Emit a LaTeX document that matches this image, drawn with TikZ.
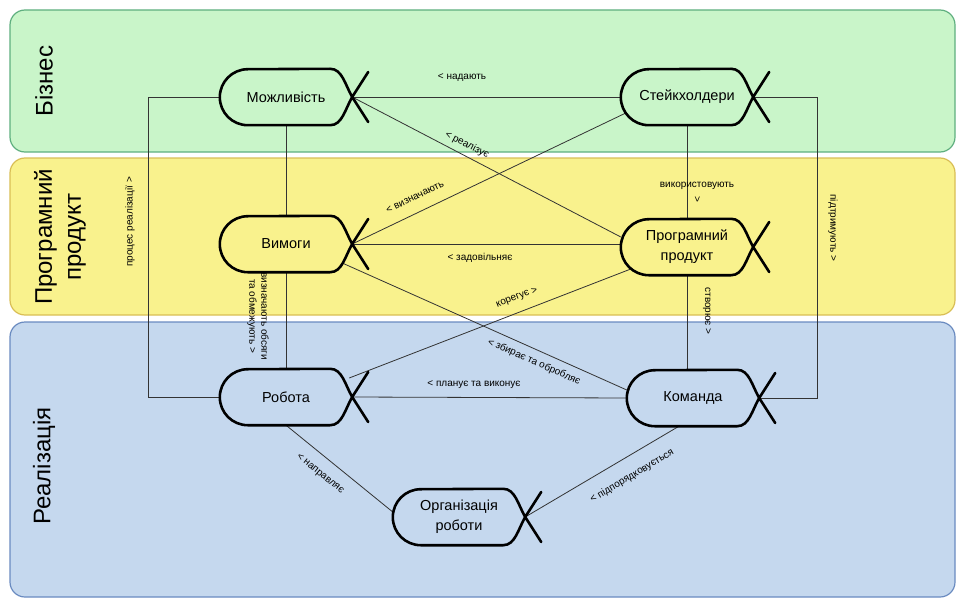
\documentclass[tikz,border=0pt]{standalone}
\usepackage{fontspec}
\setmainfont{Liberation Sans}
\definecolor{gfill}{HTML}{C9F5C9}
\definecolor{gdraw}{HTML}{5FAF7F}
\definecolor{yfill}{HTML}{F9F28D}
\definecolor{ydraw}{HTML}{D9BE55}
\definecolor{bfill}{HTML}{C5D8EE}
\definecolor{bdraw}{HTML}{6A8BC0}
\newcommand{\fishdraw}[1]{%
  \draw[fishline] ([xshift=16pt,yshift=25pt]#1.east) -- (#1.east)
    .. controls ([xshift=-7pt,yshift=-12pt]#1.east) and ([xshift=-10pt]#1.south east) .. ([xshift=-22pt]#1.south east)
    -- ([xshift=28pt]#1.south west) arc[start angle=270, end angle=90, radius=28pt]
    -- ([xshift=-22pt]#1.north east)
    .. controls ([xshift=-10pt]#1.north east) and ([xshift=-7pt,yshift=12pt]#1.east) .. (#1.east)
    -- ([xshift=16pt,yshift=-25pt]#1.east);}
\begin{document}
\begin{tikzpicture}[x=1pt,y=-1pt,
  lane/.style={rounded corners=15pt, line width=1.2pt},
  fishbox/.style={minimum width=132pt, minimum height=56pt, inner sep=0pt, align=center, font=\fontsize{14.5}{20}\selectfont},
  fishline/.style={line width=2.6pt, black, line cap=round, line join=round},
  conn/.style={line width=0.8pt, black!80},
  lbl/.style={font=\fontsize{10}{12}\selectfont, inner sep=1pt, align=center},
  lanetitle/.style={font=\fontsize{24}{29}\selectfont, rotate=90, align=center, inner sep=0pt}]
\useasboundingbox (0,0) rectangle (958,599);
% lanes
\draw[lane, fill=gfill, draw=gdraw] (10,10) rectangle (955,152);
\draw[lane, fill=yfill, draw=ydraw] (10,158) rectangle (955,315);
\draw[lane, fill=bfill, draw=bdraw] (10,322) rectangle (955,597);
\node[lanetitle] (t1) at (44,81) {Бізнес};
\node[lanetitle] (t2) at (60,237) {Програмний\\продукт};
\node[lanetitle] (t3) at (44,466) {Реалізація};
% nodes
\node[fishbox] (mozh) at (286,97) {Можливість};
\node[fishbox] (stake) at (687,97) {Стейкхолдери};
\node[fishbox] (vym) at (286,244) {Вимоги};
\node[fishbox] (pp) at (687,247) {Програмний\\продукт};
\node[fishbox] (rob) at (286,397) {Робота};
\node[fishbox] (kom) at (693,398) {Команда};
\node[fishbox] (org) at (459,517) {Організація\\роботи};
\coordinate (rt) at (817,97);
\coordinate (lt) at (148,97);
% connectors
\draw[conn] (mozh.east) -- (stake.west);
\draw[conn] (mozh.east) -- ([yshift=10pt]pp.west);
\draw[conn] ([xshift=5pt,yshift=-16pt]stake.west) -- (vym.east);
\draw[conn] (stake.south) -- (pp.north);
\draw[conn] (stake.east) -- (rt) |- (kom.east);
\draw[conn] (mozh.south) -- (vym.north);
\draw[conn] (mozh.west) -- (lt) |- (rob.west);
\draw[conn] (vym.east) -- (vym.east -| pp.west);
\draw[conn] (vym.south) -- (rob.north);
\draw[conn] ([xshift=-10pt,yshift=-19pt]vym.east) -- ([yshift=8pt]kom.west);
\draw[conn] ([xshift=10pt,yshift=-22pt]pp.west) -- ([xshift=-3pt,yshift=19pt]rob.east);
\draw[conn] (kom.west) -- (rob.east);
\draw[conn] ([xshift=-14pt]kom.south) -- (org.east);
\draw[conn] (rob.south) -- ([yshift=5pt]org.west);
\draw[conn] (pp.south) -- (pp.south |- kom.north);
% shapes
\fishdraw{mozh}
\fishdraw{stake}
\fishdraw{vym}
\fishdraw{pp}
\fishdraw{rob}
\fishdraw{kom}
\fishdraw{org}
% labels
\node[lbl] (l1) at (462,78) {< надають};
\node[lbl, rotate=-27.5] (l2) at (467,145) {< реалізує};
\node[lbl, rotate=25.6] (l3) at (415,197) {< визначають};
\node[lbl] (l4) at (697,192) {використовують\\[-3pt]\rotatebox{-90}{>}};
\node[lbl, rotate=-90] (l5) at (833,228) {підтримують >};
\node[lbl, rotate=90] (l6) at (130,222) {процес реалізації >};
\node[lbl] (l7) at (480,258) {< задовільняє};
\node[lbl, rotate=-90] (l8) at (258,316) {визначають обсяги\\та обмежують >};
\node[lbl, rotate=21.1] (l9) at (517,298) {корегує >};
\node[lbl, rotate=-24] (l10) at (534,362) {< збирає та обробляє};
\node[lbl] (l11) at (474,385) {< планує та виконує};
\node[lbl, rotate=30.6] (l12) at (632,476) {< підпорядковується};
\node[lbl, rotate=-39] (l13) at (320,474) {< направляє};
\node[lbl, rotate=-90] (l14) at (707,311) {створює >};
\end{tikzpicture}
\end{document}
